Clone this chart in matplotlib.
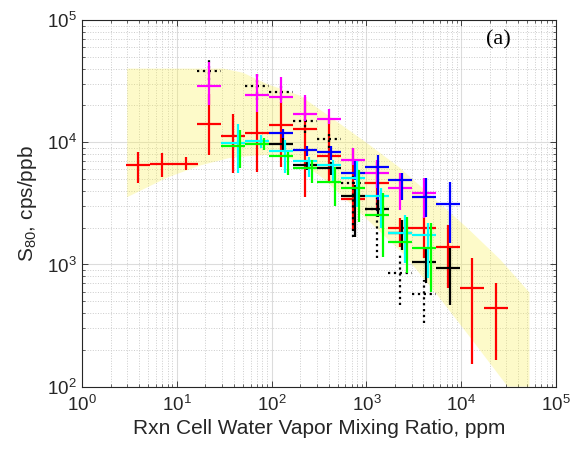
import numpy as np
import matplotlib
matplotlib.use('Agg')
from matplotlib import pyplot as plt
from matplotlib.ticker import LogLocator, NullFormatter

plt.rcParams['font.family'] = ['Liberation Sans', 'DejaVu Sans']
plt.rcParams['mathtext.fontset'] = 'custom'
plt.rcParams['mathtext.rm'] = 'Liberation Sans'

# bin centres of water vapor mixing ratio, ppm
bins = [3.89, 6.95, 12.4, 22.1, 39.5, 70.5, 126, 225, 401, 716,
        1280, 2280, 4070, 7270, 13000, 23200]

# shaded band (upper edge left->right, lower edge left->right)
band_up_x = [3, 31, 50, 89, 200, 447, 1020, 2240, 5010, 11500, 25700, 52500, 52500]
band_up_y = [40000, 40000, 37000, 30000, 24000, 15500, 9800, 6200, 3550, 2000, 1100, 590, 100]
band_lo_x = [3, 7.9, 17.8, 35.5, 63, 112, 200, 355, 631, 1260, 2510, 5620, 12600, 31000]
band_lo_y = [3550, 5130, 6460, 7410, 7760, 7940, 6920, 5010, 3310, 2000, 1200, 560, 250, 100]

# each series: bin index, S80 value, error bar bottom, error bar top
red_k = [0, 1, 2, 3, 4, 5, 6, 7, 8, 9, 10, 11, 12, 13, 14, 15]
red_y = [6480, 6610, 6610, 14000, 11200, 11900, 13800, 12800, 7680, 3420, 4620, 1980, 1980, 1380, 640, 440]
red_lo = [4620, 5180, 5900, 7830, 5580, 5690, 6250, 3550, 4620, 1910, 2900, 1380, 1120, 640, 153, 165]
red_hi = [8280, 8130, 7540, 25000, 16900, 17600, 21200, 23300, 15100, 8930, 6860, 2390, 2440, 2100, 1120, 700]

dot_k = [3, 5, 6, 7, 8, 9, 10, 11, 12]
dot_y = [38100, 28700, 25600, 14900, 10600, 4620, 2830, 850, 570]
dot_lo = [29000, 22000, 22000, 12000, 9000, 1670, 1120, 465, 330]
dot_hi = [46800, 37300, 29000, 17000, 12000, 5500, 3500, 1240, 750]

mag_k = [3, 5, 6, 7, 8, 9, 10, 11, 12]
mag_y = [28700, 24200, 23300, 16900, 15400, 7120, 5580, 4210, 3830]
mag_lo = [20100, 17600, 21000, 15000, 14000, 6480, 4210, 2780, 2390]
mag_hi = [45100, 36000, 34000, 24200, 18600, 8930, 7120, 5580, 5080]

blue_k = [6, 7, 8, 9, 10, 11, 12, 13]
blue_y = [11900, 8600, 8280, 5580, 6250, 4890, 3550, 3110]
blue_lo = [10800, 7680, 7120, 4890, 2700, 3360, 2440, 1490]
blue_hi = [12900, 9300, 9300, 7000, 7830, 5580, 5080, 4710]

blk_k = [6, 7, 8, 9, 10, 11, 12, 13]
blk_y = [9640, 6480, 6130, 3620, 2830, 1800, 1040, 930]
blk_lo = [8280, 5900, 5380, 1670, 2440, 1310, 700, 465]
blk_hi = [10800, 7120, 6860, 4450, 3360, 2300, 1360, 1360]

cyan_k = [4, 5, 6, 7, 8, 9, 10, 11, 12]
cyan_y = [9820, 10200, 8440, 6990, 6480, 5080, 3620, 1800, 1740]
cyan_lo = [5580, 8930, 5580, 5180, 4620, 2940, 1980, 1030, 780]
cyan_hi = [14000, 11400, 10400, 7540, 7120, 7000, 4200, 2530, 2170]

grn_k = [4, 5, 6, 7, 8, 9, 10, 11, 12]
grn_y = [9280, 9640, 7680, 6130, 4710, 4210, 2530, 1520, 1360]
grn_lo = [6130, 8600, 5380, 4620, 3000, 2220, 1150, 850, 600]
grn_hi = [12500, 10800, 8280, 7120, 6250, 5900, 3830, 2440, 2170]

fig = plt.figure(figsize=(5.77, 4.5), dpi=100)
ax = fig.add_axes([0.1421, 0.1407, 0.8215, 0.8149])
ax.set_xscale('log')
ax.set_yscale('log')

band_x = band_up_x + band_lo_x[::-1]
band_y = band_up_y + band_lo_y[::-1]
ax.fill(band_x, band_y, color=(0.98, 0.94, 0.3), alpha=0.3, lw=0, zorder=1)

centres = np.array(bins)
half = np.sqrt(centres[1] / centres[0])


def crosses(ks, y, lo, hi, color, dx=0.0, ls='-'):
    c = centres[ks]
    x = c * 10 ** dx
    ax.hlines(y, c / half, c * half, colors=color, linestyles=ls, lw=1.6, zorder=3)
    ax.vlines(x, lo, hi, colors=color, linestyles=ls, lw=1.6, zorder=3)


crosses(red_k, red_y, red_lo, red_hi, (1, 0, 0), 0.0)
crosses(dot_k, dot_y, dot_lo, dot_hi, 'k', 0.0, ':')
crosses(mag_k, mag_y, mag_lo, mag_hi, (1, 0, 1), 0.0)
crosses(blue_k, blue_y, blue_lo, blue_hi, (0, 0, 1), 0.02)
crosses(blk_k, blk_y, blk_lo, blk_hi, 'k', 0.02)
crosses(cyan_k, cyan_y, cyan_lo, cyan_hi, (0, 1, 1), 0.045)
crosses(grn_k, grn_y, grn_lo, grn_hi, (0, 1, 0), 0.07)

ax.set_xlim(1, 1e5)
ax.set_ylim(1e2, 1e5)
ax.xaxis.set_major_locator(LogLocator(base=10, numticks=10))
ax.xaxis.set_minor_locator(LogLocator(base=10, subs=np.arange(2, 10), numticks=20))
ax.yaxis.set_minor_locator(LogLocator(base=10, subs=np.arange(2, 10), numticks=20))
ax.xaxis.set_minor_formatter(NullFormatter())
ax.yaxis.set_minor_formatter(NullFormatter())

ax.grid(True, which='major', color='#dcdcdc', lw=0.8, ls='-', zorder=0)
ax.grid(True, which='minor', color='#cccccc', lw=0.7, ls=':', zorder=0)
ax.set_axisbelow(True)

ax.tick_params(which='both', direction='in', top=True, right=True,
               colors='#262626', labelsize=13.5)
ax.tick_params(which='major', length=4, width=0.6)
ax.tick_params(axis='x', which='major', pad=6)
ax.tick_params(which='minor', length=2, width=0.5)
for s in ax.spines.values():
    s.set_color('#262626')
    s.set_linewidth(0.8)

ax.set_xlabel('Rxn Cell Water Vapor Mixing Ratio, ppm', fontsize=15, color='#262626', labelpad=3)
ax.set_ylabel('S$_{80}$, cps/ppb', fontsize=15, color='#262626', labelpad=6)
ax.text(0.878, 0.945, '(a)', transform=ax.transAxes, ha='center', va='center',
        fontsize=16, family='Liberation Serif', color='k')

fig.savefig('out.png', dpi=100)
